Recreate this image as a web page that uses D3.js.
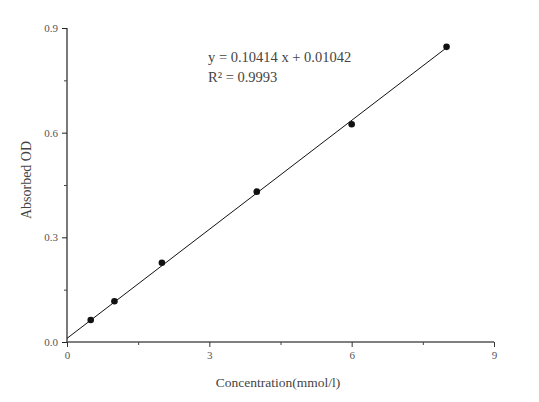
<!DOCTYPE html>
<html><head><meta charset="utf-8">
<script src="https://cdn.jsdelivr.net/npm/d3@7"></script>
<style>body{margin:0;background:#fff;} svg{display:block;}</style>
</head><body>
<svg id="c" width="539" height="402"></svg>
<script>
const concentration = [0.5, 1, 2, 4, 6, 8];
const absorbance = [0.063, 0.117, 0.227, 0.431, 0.624, 0.846];
const slope = 0.10414, intercept = 0.01042;
const xTicks = [0, 3, 6, 9];
const yTicks = [0, 0.3, 0.6, 0.9];
const xMinor = [1.5, 4.5, 7.5];
const yMinor = [0.15, 0.45, 0.75];
const equationLines = ["y = 0.10414 x + 0.01042", "R² = 0.9993"];

const svg = d3.select("#c");
const font = "'Liberation Serif','Times New Roman',serif";
const x = d3.scaleLinear().domain([0, 9]).range([67, 494]);
const y = d3.scaleLinear().domain([0, 0.9]).range([342, 28]);

// Y axis
const ya = svg.append("g").attr("transform", `translate(${x(0)},0)`)
  .call(d3.axisLeft(y).tickValues(yTicks).tickFormat(d3.format(".1f")).tickSize(5).tickPadding(4));
ya.select(".domain").attr("stroke", "#222").attr("stroke-width", 1.2).attr("d", `M0,${y(0)}V${y(0.9)}`);
ya.selectAll(".tick line").attr("stroke", "#222");
ya.selectAll("text").attr("font-family", font).attr("font-size", 11).attr("fill", "#555");
svg.append("g").attr("transform", `translate(${x(0)},0)`)
  .call(d3.axisLeft(y).tickValues(yMinor).tickFormat("").tickSize(3))
  .call(g => { g.select(".domain").remove(); g.selectAll("line").attr("stroke", "#444"); });

// X axis
const xa = svg.append("g").attr("transform", `translate(0,${y(0)})`)
  .call(d3.axisBottom(x).tickValues(xTicks).tickFormat(d3.format("d")).tickSize(5).tickPadding(4));
xa.select(".domain").attr("stroke", "#555").attr("stroke-width", 1.6).attr("d", `M${x(0)},0H${x(9)}`);
xa.selectAll(".tick line").attr("stroke", "#333");
xa.selectAll("text").attr("font-family", font).attr("font-size", 11).attr("fill", "#555");
svg.append("g").attr("transform", `translate(0,${y(0)})`)
  .call(d3.axisBottom(x).tickValues(xMinor).tickFormat("").tickSize(3))
  .call(g => { g.select(".domain").remove(); g.selectAll("line").attr("stroke", "#444"); });

// Fit line
const fitX = [0, d3.max(concentration)];
svg.append("path")
  .datum(fitX)
  .attr("d", d3.line().x(d => x(d)).y(d => y(slope * d + intercept)))
  .attr("stroke", "#111").attr("stroke-width", 1).attr("fill", "none");

// Points
svg.append("g").selectAll("circle")
  .data(concentration.map((c, i) => [c, absorbance[i]]))
  .join("circle")
  .attr("cx", d => x(d[0])).attr("cy", d => y(d[1])).attr("r", 3.3)
  .attr("fill", "#111");

// Equation
svg.append("g").selectAll("text").data(equationLines).join("text")
  .attr("x", 208).attr("y", (d, i) => 62 + i * 20)
  .attr("font-family", font).attr("font-size", 14.5).attr("fill", "#444")
  .text(d => d);

// Axis titles
svg.append("text").attr("transform", "translate(31,180) rotate(-90)")
  .attr("text-anchor", "middle").attr("font-family", font).attr("font-size", 14).attr("fill", "#444")
  .text("Absorbed OD");
svg.append("text").attr("x", 278).attr("y", 387)
  .attr("text-anchor", "middle").attr("font-family", font).attr("font-size", 13.5).attr("fill", "#444")
  .text("Concentration(mmol/l)");
</script>
</body></html>
